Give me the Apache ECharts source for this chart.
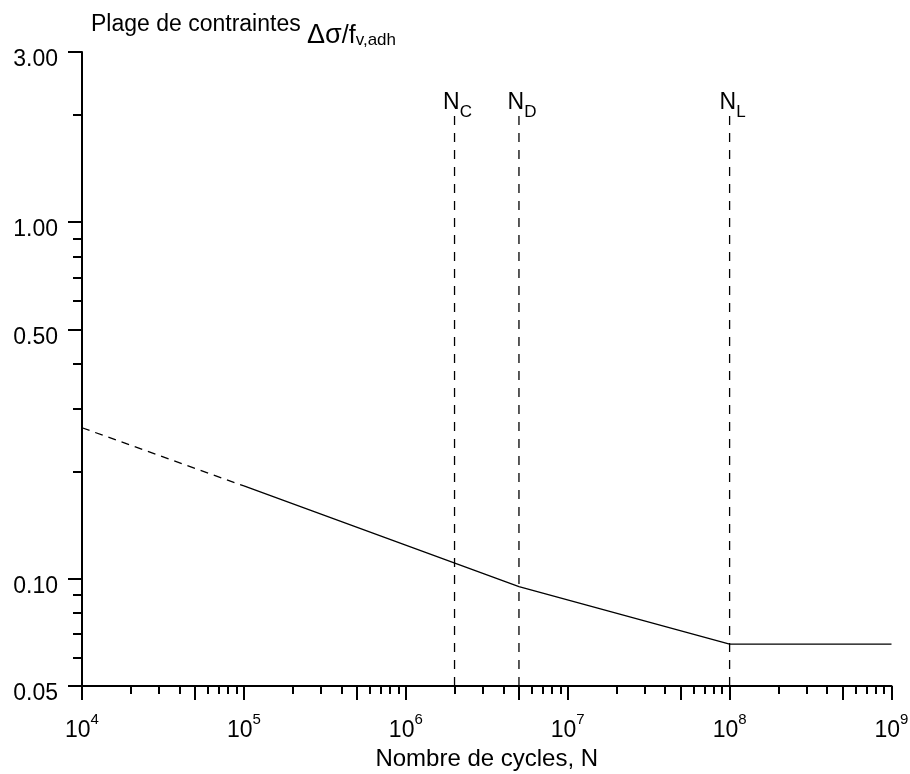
<!DOCTYPE html>
<html><head><meta charset="utf-8">
<script src="https://cdn.jsdelivr.net/npm/echarts@6/dist/echarts.min.js"></script>
<style>html,body{margin:0;padding:0;background:#fff}#c{width:910px;height:774px}</style>
</head><body><div id="c"></div>
<script>
// ---- data ----
const xMajorTicks = [1e4, 5e4, 1e5, 5e5, 1e6, 5e6, 1e7, 5e7, 1e8, 5e8, 1e9];
const xLabelValues = [1e4, 1e5, 1e6, 1e7, 1e8, 1e9];
const xMinorTicks = [2e4, 3e4, 4e4, 6e4, 7e4, 8e4, 9e4,
                     2e5, 3e5, 4e5, 6e5, 7e5, 8e5, 9e5,
                     2e6, 3e6, 4e6, 6e6, 7e6, 8e6, 9e6,
                     2e7, 3e7, 4e7, 6e7, 7e7, 8e7, 9e7,
                     2e8, 3e8, 4e8, 6e8, 7e8, 8e8, 9e8];
const yLabelValues = [0.05, 0.10, 0.50, 1.00, 3.00];
const yMinorTicks = [0.06, 0.07, 0.08, 0.09, 0.2, 0.3, 0.4, 0.6, 0.7, 0.8, 0.9, 2];
const dashedN = [1e4, 1e5];
const dashedS = [0.265, 0.182];
const solidN = [1e5, 5e6, 1e8, 1e9];
const solidS = [0.182, 0.095, 0.0655, 0.0655];
const limitNames = ['C', 'D', 'L'];
const limitN = [2e6, 5e6, 1e8];
const limitBottom = 0.05;
const limitTop = 2.0;
const xTitle = 'Nombre de cycles, N';

// ---- chart ----
const FONT = 'Liberation Sans';
const chart = echarts.init(document.getElementById('c'), null, {renderer: 'canvas'});

function zip(a, b) { return a.map((v, i) => [v, b[i]]); }

const baseX = {
  type: 'log', logBase: 10, min: 1e4, max: 1e9, gridIndex: 0, position: 'bottom',
  splitLine: {show: false}, minorTick: {show: false}, minorSplitLine: {show: false}
};
const baseY = {
  type: 'log', logBase: 10, min: 0.05, max: 3, gridIndex: 0, position: 'left',
  splitLine: {show: false}, minorTick: {show: false}, minorSplitLine: {show: false}
};

const series = [];
series.push({
  type: 'line', data: zip(dashedN, dashedS), showSymbol: false, silent: true,
  lineStyle: {color: '#000', width: 1.3, type: [8, 6]}, z: 3
});
series.push({
  type: 'line', data: zip(solidN, solidS), showSymbol: false, silent: true,
  lineStyle: {color: '#000', width: 1.3}, z: 3
});
limitN.forEach((n, i) => {
  series.push({
    type: 'line', silent: true, symbol: 'circle', symbolSize: 0, showSymbol: true,
    lineStyle: {color: '#000', width: 1.3, type: [9, 8]},
    itemStyle: {color: 'transparent'},
    data: [
      [n, limitBottom],
      {value: [n, limitTop], label: {
        show: true, position: 'top', distance: -6, offset: [3, 0],
        formatter: '{n|N}{s|' + limitNames[i] + '}',
        rich: {
          n: {fontFamily: FONT, fontSize: 23, color: '#000', lineHeight: 30, verticalAlign: 'top'},
          s: {fontFamily: FONT, fontSize: 17, color: '#000', lineHeight: 30, verticalAlign: 'bottom'}
        }
      }}
    ],
    z: 2
  });
});

const option = {
  animation: false,
  backgroundColor: '#fff',
  title: {
    left: 86, top: 8,
    text: '{a|Plage de contraintes }{b|Δσ}{c|/f}{d|v,adh}',
    textStyle: {
      fontWeight: 'normal',
      rich: {
        a: {fontFamily: FONT, fontSize: 23, fontWeight: 'normal', color: '#000', lineHeight: 36, verticalAlign: 'top'},
        b: {fontFamily: FONT, fontSize: 27, fontWeight: 'normal', color: '#000', lineHeight: 36, verticalAlign: 'bottom'},
        c: {fontFamily: FONT, fontSize: 25, fontWeight: 'normal', color: '#000', lineHeight: 36, verticalAlign: 'bottom'},
        d: {fontFamily: FONT, fontSize: 17, fontWeight: 'normal', color: '#000', lineHeight: 36, verticalAlign: 'bottom'}
      }
    }
  },
  grid: {left: 82, right: 18.5, top: 52, bottom: 88, containLabel: false, outerBoundsMode: 'none'},
  xAxis: [
    Object.assign({}, baseX, {
      axisLine: {show: true, lineStyle: {color: '#000', width: 2}},
      axisTick: {show: true, inside: false, length: 14, lineStyle: {color: '#000', width: 2}, customValues: xMajorTicks},
      axisLabel: {
        show: true, margin: 26, customValues: xLabelValues,
        formatter: v => '{b|10}{s|' + Math.round(Math.log10(v)) + '}',
        rich: {
          b: {fontFamily: FONT, fontSize: 23, color: '#000', lineHeight: 30, verticalAlign: 'bottom'},
          s: {fontFamily: FONT, fontSize: 15, color: '#000', lineHeight: 30, verticalAlign: 'top'}
        }
      },
      name: xTitle, nameLocation: 'middle', nameGap: 60,
      nameTextStyle: {fontFamily: FONT, fontSize: 24, color: '#000', verticalAlign: 'top'}
    }),
    Object.assign({}, baseX, {
      axisLine: {show: false},
      axisTick: {show: true, inside: false, length: 8, lineStyle: {color: '#000', width: 2}, customValues: xMinorTicks},
      axisLabel: {show: false}
    })
  ],
  yAxis: [
    Object.assign({}, baseY, {
      axisLine: {show: true, lineStyle: {color: '#000', width: 2}},
      axisTick: {show: true, inside: false, length: 14, lineStyle: {color: '#000', width: 2}, customValues: yLabelValues},
      axisLabel: {
        show: true, margin: 24, customValues: yLabelValues,
        formatter: v => '{v|' + Number(v).toFixed(2) + '}',
        rich: {
          v: {fontFamily: FONT, fontSize: 23, color: '#000', padding: [16, 0, 0, 0]}
        }
      }
    }),
    Object.assign({}, baseY, {
      axisLine: {show: false},
      axisTick: {show: true, inside: false, length: 9, lineStyle: {color: '#000', width: 2}, customValues: yMinorTicks},
      axisLabel: {show: false}
    })
  ],
  series: series
};
chart.setOption(option);
</script>
</body></html>
